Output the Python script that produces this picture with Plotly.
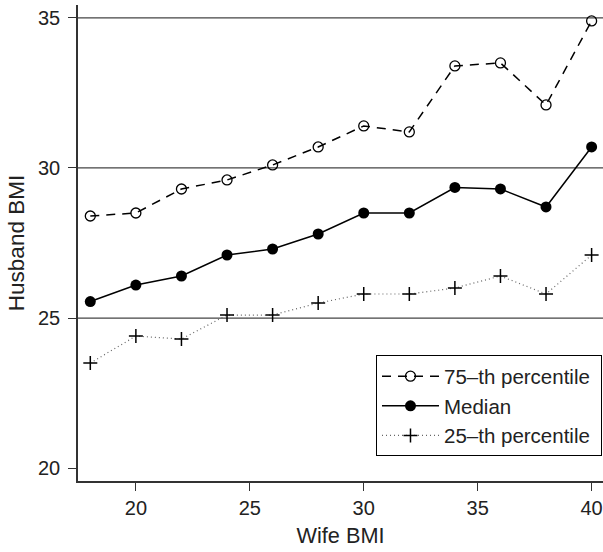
import plotly.graph_objects as go

wife_bmi = [18, 20, 22, 24, 26, 28, 30, 32, 34, 36, 38, 40]
p75 = [28.4, 28.5, 29.3, 29.6, 30.1, 30.7, 31.4, 31.2, 33.4, 33.5, 32.1, 34.9]
median = [25.55, 26.1, 26.4, 27.1, 27.3, 27.8, 28.5, 28.5, 29.35, 29.3, 28.7, 30.7]
p25 = [23.5, 24.4, 24.3, 25.1, 25.1, 25.5, 25.8, 25.8, 26.0, 26.4, 25.8, 27.1]

names = ["75\u2013th percentile", "Median", "25\u2013th percentile"]
x_ticks = [20, 25, 30, 35, 40]
y_ticks = [20, 25, 30, 35]

pad = "\u00a0"  # a little right padding inside the legend box

fig = go.Figure()
fig.add_trace(go.Scatter(
    x=wife_bmi, y=p75, name=names[0] + pad, mode="lines+markers",
    line=dict(color="black", width=1.5, dash="9px,7px"),
    marker=dict(symbol="circle-open", size=10, color="black", line=dict(width=1.3)),
))
fig.add_trace(go.Scatter(
    x=wife_bmi, y=median, name=names[1], mode="lines+markers",
    line=dict(color="black", width=1.5),
    marker=dict(symbol="circle", size=11, color="black"),
))
fig.add_trace(go.Scatter(
    x=wife_bmi, y=p25, name=names[2] + pad, mode="lines+markers",
    line=dict(color="#666666", width=1.2, dash="1px,3px"),
    marker=dict(symbol="cross-thin-open", size=10, color="black", line=dict(width=1.5, color="black")),
))

font = "Liberation Sans, Arial, Helvetica, sans-serif"
fig.update_layout(
    width=603, height=552,
    margin=dict(l=78, r=0, t=5, b=71),
    paper_bgcolor="white", plot_bgcolor="white",
    font=dict(family=font, size=20, color="#222222"),
    showlegend=True,
    legend=dict(
        x=0.5676, y=0.264, xanchor="left", yanchor="top",
        bordercolor="black", borderwidth=1, bgcolor="white",
        font=dict(size=20.5), itemwidth=57,
    ),
    xaxis=dict(
        range=[17.46, 40.5], tickvals=x_ticks, showgrid=False, zeroline=False,
        automargin=False,
        showline=True, linecolor="#333333", linewidth=1.5,
        ticks="outside", ticklen=8, tickwidth=1.2, tickcolor="#333333",
        title=dict(text="Wife BMI", standoff=10, font=dict(size=21.7)),
    ),
    yaxis=dict(
        range=[19.57, 35.43], tickvals=y_ticks, zeroline=False,
        showgrid=False, automargin=False,
        showline=True, linecolor="#333333", linewidth=1.5,
        ticks="outside", ticklen=8, tickwidth=1.2, tickcolor="#333333",
        ticklabelstandoff=4,
        title=dict(text="Husband BMI", standoff=7, font=dict(size=22.5)),
    ),
)
for gy in [25, 30, 35]:
    fig.add_hline(y=gy, line=dict(color="#444444", width=1.2), layer="below")

fig.write_html("out.html", config={"displayModeBar": False},
               post_script="document.body.style.margin='0px';")
